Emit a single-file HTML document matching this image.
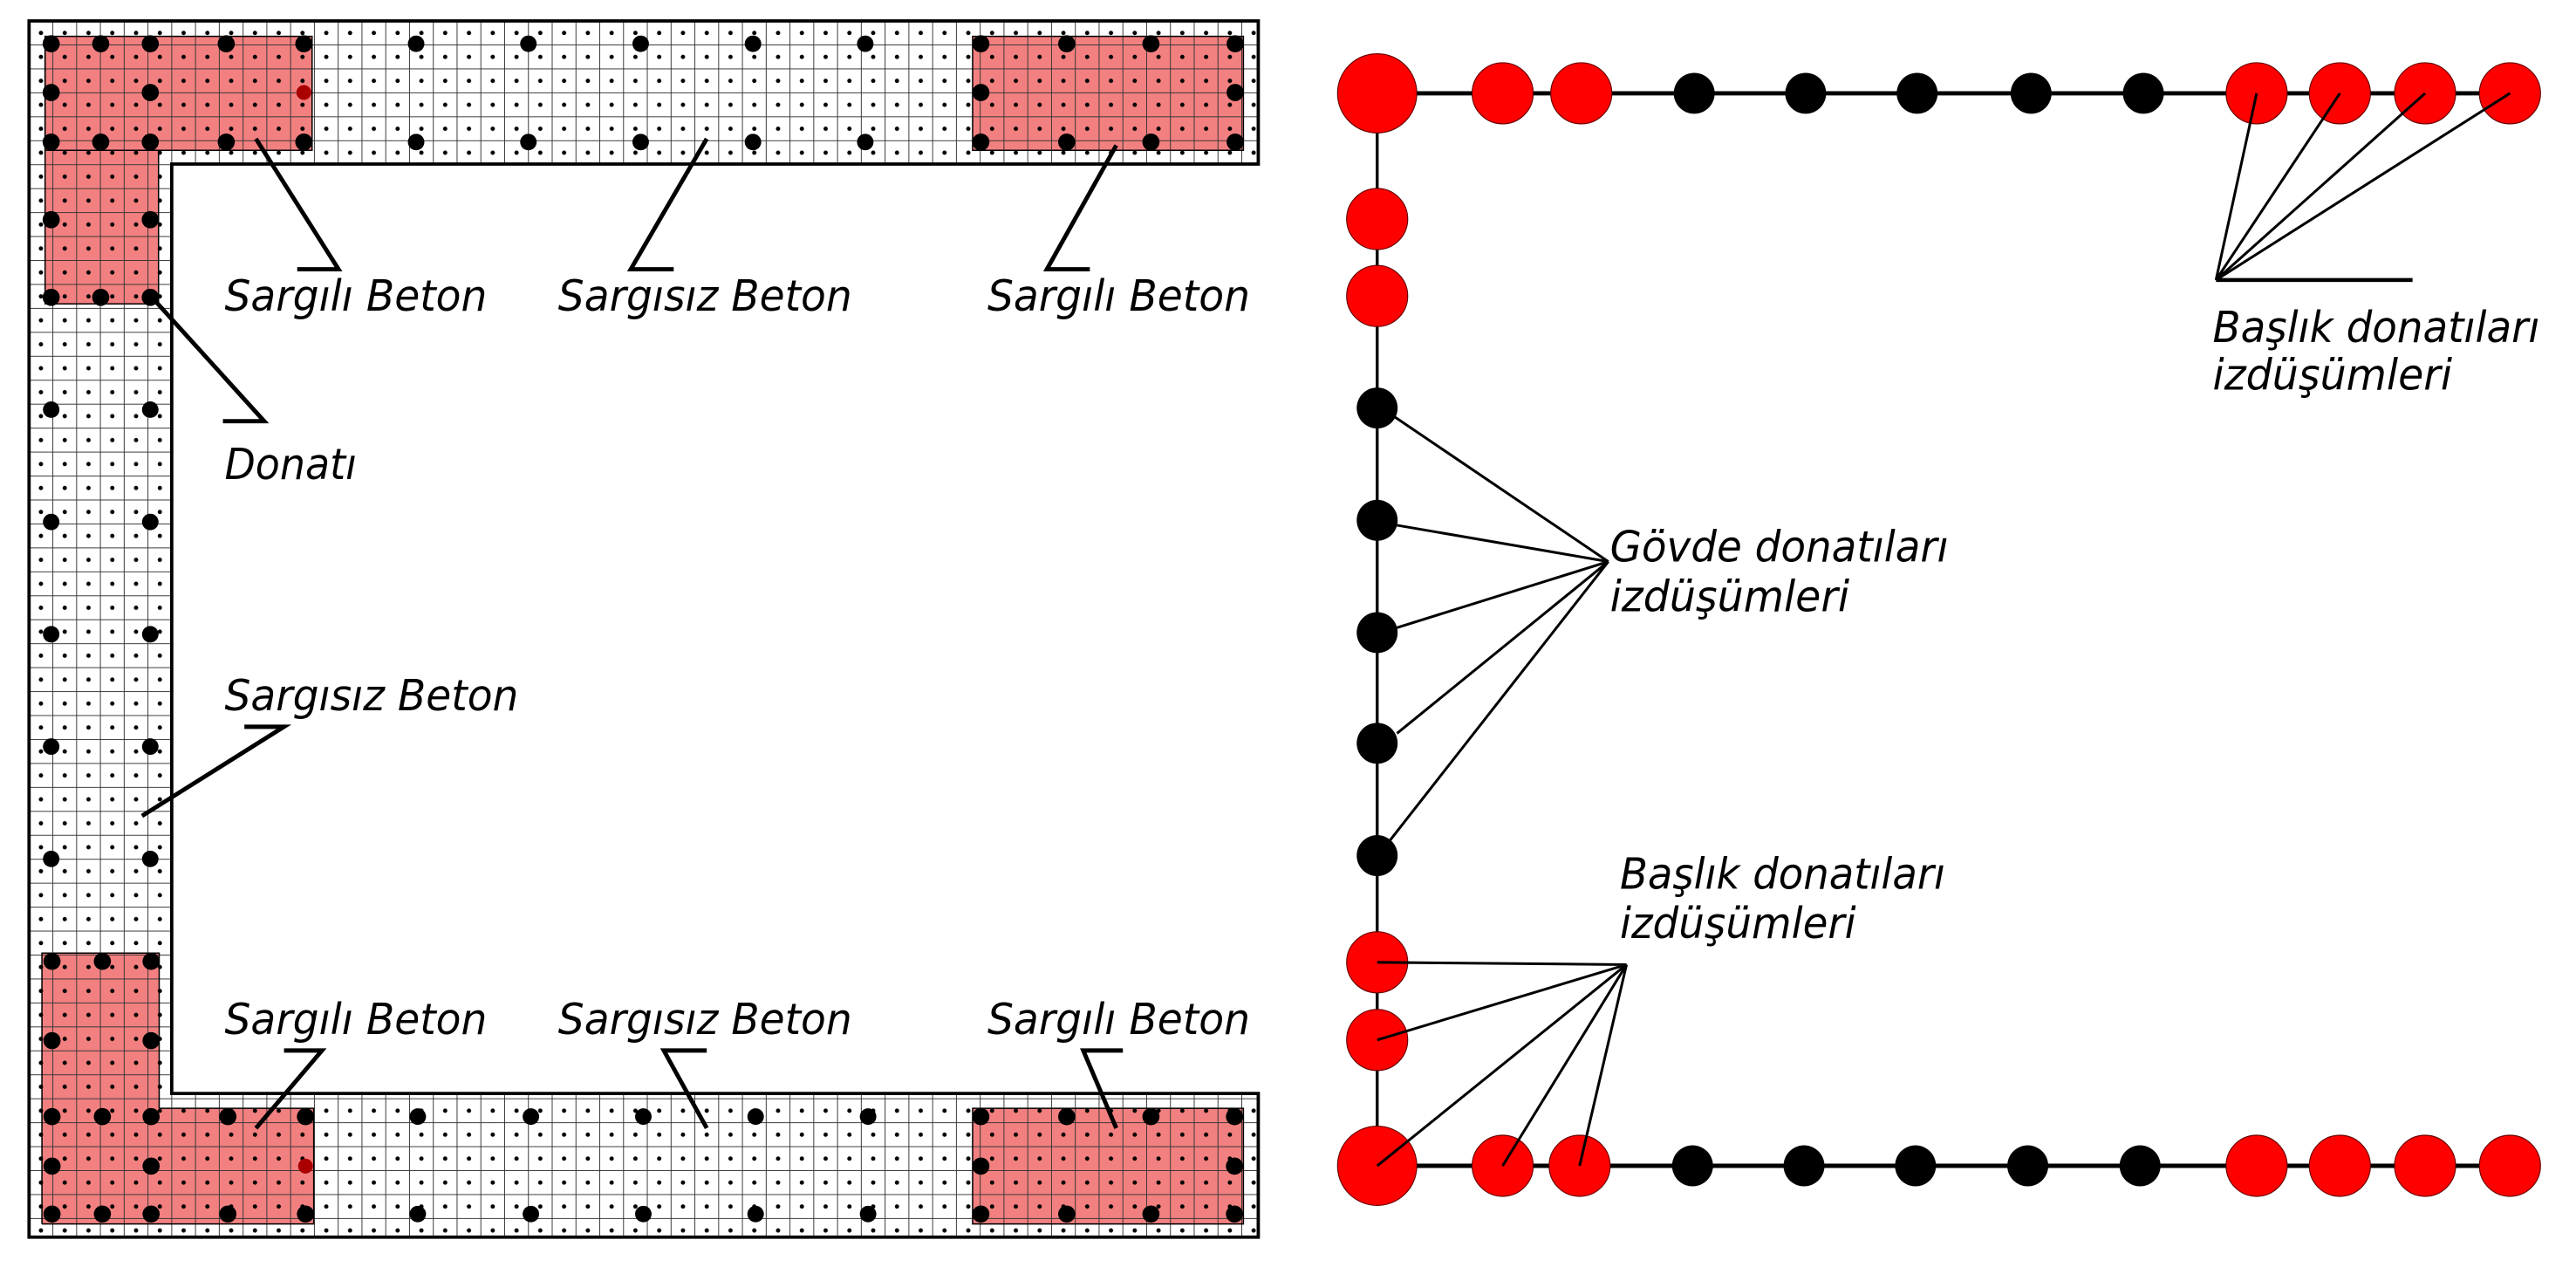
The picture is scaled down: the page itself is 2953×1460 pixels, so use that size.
<!DOCTYPE html>
<html><head><meta charset="utf-8"><style>
html,body{margin:0;padding:0;background:#fff;}
svg{display:block;}
text{font-family:"DejaVu Sans","Liberation Sans",sans-serif;font-style:italic;font-size:26px;fill:#000;}
</style></head><body>
<svg width="2953" height="1460" viewBox="0 0 1560 771.3" preserveAspectRatio="none" xmlns="http://www.w3.org/2000/svg">
<defs>
<pattern id="g" x="17.6" y="12.7" width="14.4" height="14.5" patternUnits="userSpaceOnUse">
<rect width="14.4" height="14.5" fill="none" stroke="#333" stroke-width="0.5"/>
<circle cx="7.2" cy="7.25" r="1.3" fill="#000"/>
</pattern>
</defs>
<path d="M17.6,12.7 H762 V99.3 H104 V662 H762 V749 H17.6 Z" fill="#fff"/>
<g fill="#f38080">
<rect x="27.3" y="22" width="161.7" height="69"/>
<rect x="27.3" y="22" width="68.7" height="162"/>
<rect x="589" y="22" width="164" height="69"/>
<rect x="25.4" y="577" width="71" height="164"/>
<rect x="25.4" y="671" width="164.6" height="70"/>
<rect x="589" y="671" width="164" height="70"/>
</g>
<path d="M17.6,12.7 H762 V99.3 H104 V662 H762 V749 H17.6 Z" fill="url(#g)"/>
<g fill="none" stroke="#000" stroke-width="0.8">
<rect x="27.3" y="22" width="161.7" height="69"/>
<rect x="589" y="22" width="164" height="69"/>
<rect x="589" y="671" width="164" height="70"/>
<path d="M27.3,22 V184 H96 V91"/>
<path d="M25.4,741 V577 H96.4 V671"/>
<path d="M96.4,671 H190 V741 H25.4"/>
</g>
<path d="M17.6,12.7 H762 V99.3 H104 V662 H762 V749 H17.6 Z" fill="none" stroke="#000" stroke-width="2"/>
<g fill="#000">
<circle cx="31" cy="26.5" r="5.2"/><circle cx="61" cy="26.5" r="5.2"/><circle cx="91" cy="26.5" r="5.2"/><circle cx="137" cy="26.5" r="5.2"/><circle cx="184" cy="26.5" r="5.2"/>
<circle cx="31" cy="56" r="5.2"/><circle cx="91" cy="56" r="5.2"/>
<circle cx="31" cy="86" r="5.2"/><circle cx="61" cy="86" r="5.2"/><circle cx="91" cy="86" r="5.2"/><circle cx="137" cy="86" r="5.2"/><circle cx="184" cy="86" r="5.2"/>
<circle cx="31" cy="133" r="5.2"/><circle cx="91" cy="133" r="5.2"/>
<circle cx="31" cy="180" r="5.2"/><circle cx="61" cy="180" r="5.2"/><circle cx="91" cy="180" r="5.2"/>
<circle cx="252" cy="26.5" r="5"/><circle cx="320" cy="26.5" r="5"/><circle cx="388" cy="26.5" r="5"/><circle cx="456" cy="26.5" r="5"/><circle cx="524" cy="26.5" r="5"/>
<circle cx="252" cy="86" r="5"/><circle cx="320" cy="86" r="5"/><circle cx="388" cy="86" r="5"/><circle cx="456" cy="86" r="5"/><circle cx="524" cy="86" r="5"/>
<circle cx="594" cy="26.5" r="5.2"/><circle cx="646" cy="26.5" r="5.2"/><circle cx="697" cy="26.5" r="5.2"/><circle cx="748" cy="26.5" r="5.2"/>
<circle cx="594" cy="56" r="5.2"/><circle cx="748" cy="56" r="5.2"/>
<circle cx="594" cy="86" r="5.2"/><circle cx="646" cy="86" r="5.2"/><circle cx="697" cy="86" r="5.2"/><circle cx="748" cy="86" r="5.2"/>
<circle cx="31" cy="248" r="5"/><circle cx="91" cy="248" r="5"/>
<circle cx="31" cy="316" r="5"/><circle cx="91" cy="316" r="5"/>
<circle cx="31" cy="384" r="5"/><circle cx="91" cy="384" r="5"/>
<circle cx="31" cy="452" r="5"/><circle cx="91" cy="452" r="5"/>
<circle cx="31" cy="520" r="5"/><circle cx="91" cy="520" r="5"/>
<circle cx="31.5" cy="582" r="5.2"/><circle cx="62" cy="582" r="5.2"/><circle cx="91.5" cy="582" r="5.2"/>
<circle cx="31.5" cy="630" r="5.2"/><circle cx="91.5" cy="630" r="5.2"/>
<circle cx="31.5" cy="676" r="5.2"/><circle cx="62" cy="676" r="5.2"/><circle cx="91.5" cy="676" r="5.2"/><circle cx="138" cy="676" r="5.2"/><circle cx="185" cy="676" r="5.2"/>
<circle cx="31.5" cy="706" r="5.2"/><circle cx="91.5" cy="706" r="5.2"/>
<circle cx="31.5" cy="735" r="5.2"/><circle cx="62" cy="735" r="5.2"/><circle cx="91.5" cy="735" r="5.2"/><circle cx="138" cy="735" r="5.2"/><circle cx="185" cy="735" r="5.2"/>
<circle cx="253" cy="676" r="5"/><circle cx="321.5" cy="676" r="5"/><circle cx="389.6" cy="676" r="5"/><circle cx="457.6" cy="676" r="5"/><circle cx="525.7" cy="676" r="5"/>
<circle cx="253" cy="735" r="5"/><circle cx="321.5" cy="735" r="5"/><circle cx="389.6" cy="735" r="5"/><circle cx="457.6" cy="735" r="5"/><circle cx="525.7" cy="735" r="5"/>
<circle cx="594" cy="676" r="5.2"/><circle cx="646" cy="676" r="5.2"/><circle cx="697" cy="676" r="5.2"/><circle cx="747.6" cy="676" r="5.2"/>
<circle cx="594" cy="706" r="5.2"/><circle cx="747.6" cy="706" r="5.2"/>
<circle cx="594" cy="735" r="5.2"/><circle cx="646" cy="735" r="5.2"/><circle cx="697" cy="735" r="5.2"/><circle cx="747.6" cy="735" r="5.2"/>
</g>
<circle cx="184" cy="56" r="4.5" fill="#a00"/><circle cx="185" cy="706" r="4.5" fill="#a00"/>
<g fill="none" stroke="#000" stroke-width="2.6">
<path d="M155,84 L205,163 H180"/>
<path d="M428,84 L382,163 H408"/>
<path d="M676,88 L634,163 H660"/>
<path d="M92,180 L160,255 H135"/>
<path d="M86,494 L172,440 H148"/>
<path d="M155,683 L195,636 H172"/>
<path d="M428,683 L402,636 H428"/>
<path d="M676,683 L656,636 H680"/>
</g>
<text x="136" y="188" textLength="159" lengthAdjust="spacingAndGlyphs">Sargılı Beton</text>
<text x="338" y="188" textLength="178" lengthAdjust="spacingAndGlyphs">Sargısız Beton</text>
<text x="598" y="188" textLength="159" lengthAdjust="spacingAndGlyphs">Sargılı Beton</text>
<text x="136" y="290" textLength="80" lengthAdjust="spacingAndGlyphs">Donatı</text>
<text x="136" y="430" textLength="178" lengthAdjust="spacingAndGlyphs">Sargısız Beton</text>
<text x="136" y="626" textLength="159" lengthAdjust="spacingAndGlyphs">Sargılı Beton</text>
<text x="338" y="626" textLength="178" lengthAdjust="spacingAndGlyphs">Sargısız Beton</text>
<text x="598" y="626" textLength="159" lengthAdjust="spacingAndGlyphs">Sargılı Beton</text>
<g stroke="#000" fill="none">
<path d="M834,56.5 H1530" stroke-width="2.6"/>
<path d="M834,705.8 H1530" stroke-width="2.6"/>
<path d="M834,56.5 V705.8" stroke-width="1.8"/>
</g>
<g fill="#f00" stroke="#600" stroke-width="0.6">
<circle cx="834" cy="56.5" r="24"/>
<circle cx="910" cy="56.5" r="18.5"/><circle cx="957.6" cy="56.5" r="18.5"/>
<circle cx="1366.6" cy="56.5" r="18.5"/><circle cx="1417" cy="56.5" r="18.5"/><circle cx="1468.6" cy="56.5" r="18.5"/><circle cx="1520" cy="56.5" r="18.5"/>
<circle cx="834" cy="132.6" r="18.5"/><circle cx="834" cy="179.2" r="18.5"/>
<circle cx="834" cy="582.6" r="18.5"/><circle cx="834" cy="629.6" r="18.5"/>
<circle cx="834" cy="705.8" r="24"/>
<circle cx="910" cy="705.8" r="18.5"/><circle cx="956.6" cy="705.8" r="18.5"/>
<circle cx="1366.6" cy="705.8" r="18.5"/><circle cx="1417" cy="705.8" r="18.5"/><circle cx="1468.6" cy="705.8" r="18.5"/><circle cx="1520" cy="705.8" r="18.5"/>
</g>
<g fill="#000">
<circle cx="1026" cy="56.5" r="12.4"/><circle cx="1093.5" cy="56.5" r="12.4"/><circle cx="1161" cy="56.5" r="12.4"/><circle cx="1230" cy="56.5" r="12.4"/><circle cx="1298" cy="56.5" r="12.4"/>
<circle cx="1025" cy="705.8" r="12.4"/><circle cx="1092.5" cy="705.8" r="12.4"/><circle cx="1160" cy="705.8" r="12.4"/><circle cx="1228" cy="705.8" r="12.4"/><circle cx="1296" cy="705.8" r="12.4"/>
<circle cx="834" cy="247" r="12.4"/><circle cx="834" cy="315" r="12.4"/><circle cx="834" cy="383" r="12.4"/><circle cx="834" cy="450" r="12.4"/><circle cx="834" cy="518" r="12.4"/>
</g>
<g fill="none" stroke="#000" stroke-width="1.6">
<path d="M1366.6,56.5 L1342,169.5 L1417,56.5 M1342,169.5 L1468.6,56.5 M1342,169.5 L1520,56.5"/>
<path d="M1342,169.5 H1461" stroke-width="2.4"/>
<path d="M974,340 L844,252 M974,340 L846,318 M974,340 L846,380 M974,340 L846,444 M974,340 L840,511"/>
<path d="M985,584 L834,582.6 M985,584 L834,629.6 M985,584 L834,705.8 M985,584 L910,705.8 M985,584 L956.6,705.8"/>
</g>
<text x="1340" y="207" textLength="198" lengthAdjust="spacingAndGlyphs">Başlık donatıları</text>
<text x="1340" y="236" textLength="145" lengthAdjust="spacingAndGlyphs">izdüşümleri</text>
<text x="975" y="340" textLength="205" lengthAdjust="spacingAndGlyphs">Gövde donatıları</text>
<text x="975" y="370" textLength="145" lengthAdjust="spacingAndGlyphs">izdüşümleri</text>
<text x="981" y="538" textLength="197" lengthAdjust="spacingAndGlyphs">Başlık donatıları</text>
<text x="981" y="568" textLength="143" lengthAdjust="spacingAndGlyphs">izdüşümleri</text>
</svg>
</body></html>
